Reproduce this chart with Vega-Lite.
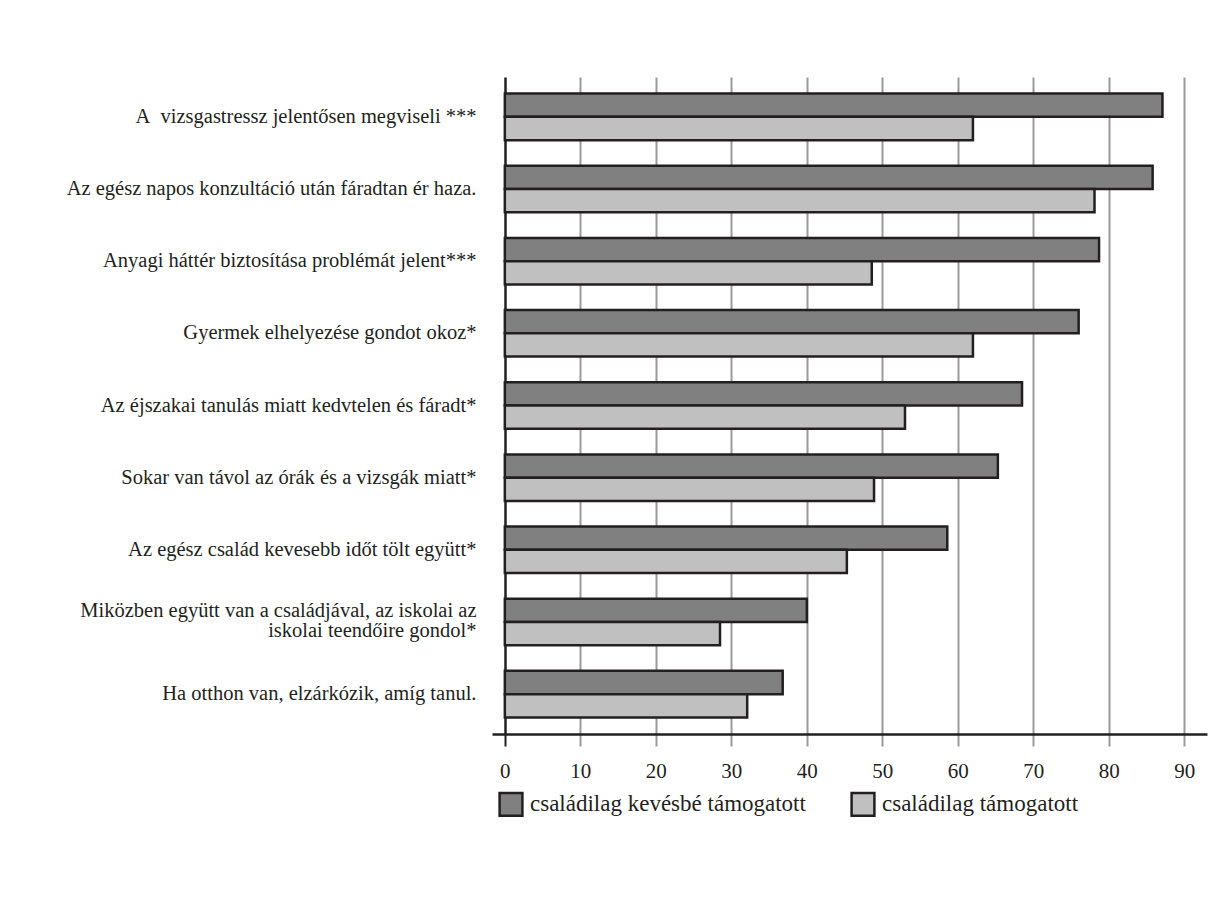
{
  "$schema": "https://vega.github.io/schema/vega-lite/v6.json",
  "autosize": {"type": "none"},
  "width": 715,
  "height": 657,
  "padding": {"left": 492, "top": 77, "right": 18, "bottom": 177},
  "background": "white",
  "config": {
    "view": {"stroke": null},
    "font": "Liberation Serif",
    "axis": {"labelFont": "Liberation Serif", "labelColor": "#231f20"},
    "legend": {"labelFont": "Liberation Serif", "labelColor": "#231f20"}
  },
  "data": {
    "values": [
      {"item": "A\u00a0 vizsgastressz jelentősen megviseli ***", "group": "családilag kevésbé támogatott", "value": 87.1},
      {"item": "A\u00a0 vizsgastressz jelentősen megviseli ***", "group": "családilag támogatott", "value": 62.0},
      {"item": "Az egész napos konzultáció után fáradtan ér haza.", "group": "családilag kevésbé támogatott", "value": 85.8},
      {"item": "Az egész napos konzultáció után fáradtan ér haza.", "group": "családilag támogatott", "value": 78.1},
      {"item": "Anyagi háttér biztosítása problémát jelent***", "group": "családilag kevésbé támogatott", "value": 78.7},
      {"item": "Anyagi háttér biztosítása problémát jelent***", "group": "családilag támogatott", "value": 48.6},
      {"item": "Gyermek elhelyezése gondot okoz*", "group": "családilag kevésbé támogatott", "value": 76.0},
      {"item": "Gyermek elhelyezése gondot okoz*", "group": "családilag támogatott", "value": 62.0},
      {"item": "Az éjszakai tanulás miatt kedvtelen és fáradt*", "group": "családilag kevésbé támogatott", "value": 68.5},
      {"item": "Az éjszakai tanulás miatt kedvtelen és fáradt*", "group": "családilag támogatott", "value": 53.0},
      {"item": "Sokar van távol az órák és a vizsgák miatt*", "group": "családilag kevésbé támogatott", "value": 65.3},
      {"item": "Sokar van távol az órák és a vizsgák miatt*", "group": "családilag támogatott", "value": 48.9},
      {"item": "Az egész család kevesebb időt tölt együtt*", "group": "családilag kevésbé támogatott", "value": 58.6},
      {"item": "Az egész család kevesebb időt tölt együtt*", "group": "családilag támogatott", "value": 45.3},
      {"item": "Miközben együtt van a családjával, az iskolai az|iskolai teendőire gondol*", "group": "családilag kevésbé támogatott", "value": 40.0},
      {"item": "Miközben együtt van a családjával, az iskolai az|iskolai teendőire gondol*", "group": "családilag támogatott", "value": 28.5},
      {"item": "Ha otthon van, elzárkózik, amíg tanul.", "group": "családilag kevésbé támogatott", "value": 36.8},
      {"item": "Ha otthon van, elzárkózik, amíg tanul.", "group": "családilag támogatott", "value": 32.1}
    ]
  },
  "mark": {"type": "bar", "stroke": "#231f20", "strokeWidth": 2.5, "opacity": 1},
  "encoding": {
    "y": {
      "field": "item",
      "type": "nominal",
      "sort": null,
      "scale": {"paddingInner": 0.355, "paddingOuter": 0.23},
      "axis": {
        "title": null,
        "domain": false,
        "ticks": false,
        "labelFontSize": 20.5,
        "labelPadding": 16,
        "labelLimit": 480,
        "labelLineHeight": 20,
        "labelOffset": {"condition": {"test": "indexof(datum.value, '|') >= 0", "value": -11}, "value": 0},
        "labelExpr": "split(datum.value, '|')"
      }
    },
    "yOffset": {
      "field": "group",
      "type": "nominal",
      "sort": ["családilag kevésbé támogatott", "családilag támogatott"],
      "scale": {"paddingInner": 0, "paddingOuter": 0}
    },
    "x": {
      "field": "value",
      "type": "quantitative",
      "scale": {"domain": [-1.7, 93], "nice": false, "zero": false},
      "axis": {
        "title": null,
        "values": [0, 10, 20, 30, 40, 50, 60, 70, 80, 90],
        "domainColor": "#231f20",
        "domainWidth": 2.5,
        "grid": true,
        "gridColor": {"condition": {"test": "datum.value === 0", "value": "#231f20"}, "value": "#9a9a9a"},
        "gridWidth": {"condition": {"test": "datum.value === 0", "value": 2.5}, "value": 2},
        "gridOpacity": 1,
        "tickColor": {"condition": {"test": "datum.value === 0", "value": "#231f20"}, "value": "#9a9a9a"},
        "tickWidth": 2,
        "tickSize": 12,
        "labelFontSize": 21,
        "labelPadding": 14,
        "labelFlush": false
      }
    },
    "color": {
      "field": "group",
      "type": "nominal",
      "scale": {"domain": ["családilag kevésbé támogatott", "családilag támogatott"], "range": ["#808080", "#c0c0c0"]},
      "legend": {
        "title": null,
        "orient": "none",
        "direction": "horizontal",
        "legendX": 6,
        "legendY": 714,
        "symbolType": "square",
        "symbolSize": 520,
        "symbolStrokeColor": "#231f20",
        "symbolStrokeWidth": 2.5,
        "symbolOpacity": 1,
        "labelFontSize": 23,
        "labelOffset": 6,
        "columnPadding": 40,
        "labelLimit": 400
      }
    }
  }
}
